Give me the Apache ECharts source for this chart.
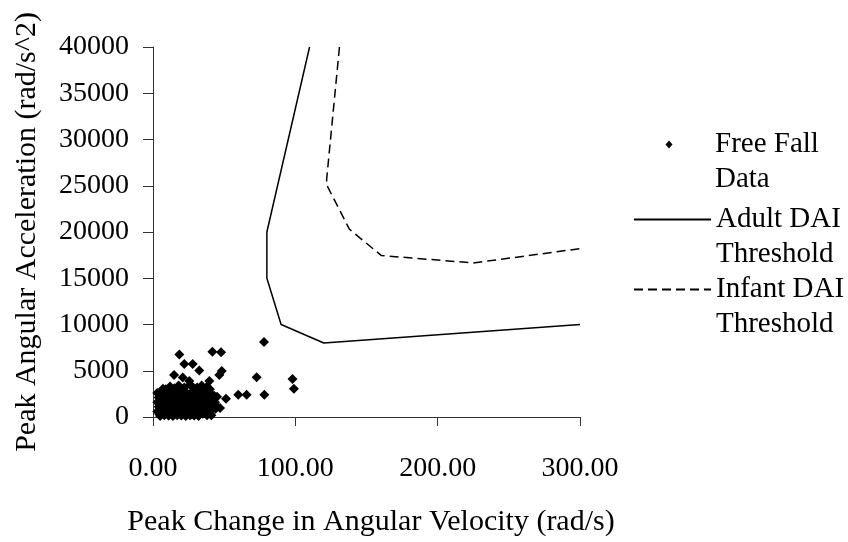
<!DOCTYPE html>
<html>
<head>
<meta charset="utf-8">
<script src="https://cdn.jsdelivr.net/npm/echarts@6/dist/echarts.min.js"></script>
<style>html,body{margin:0;padding:0;background:#fff}#c{width:848px;height:542px}</style>
</head>
<body>
<div id="c"></div>
<script>
const xTicks = [0, 100, 200, 300];
const yTicks = [0, 5000, 10000, 15000, 20000, 25000, 30000, 35000, 40000];

const fallX = [
  78, 18.5, 41.7, 47.8, 22, 27.9, 32.5, 48.3, 46.6, 14.8, 20.9, 25.5, 34.2, 39.6, 28.3,
  72.8, 98, 99, 51.3, 59.9, 65.8, 78.2, 47.1, 35.4,
  31, 38, 12, 9, 15, 36,
  5, 8, 11, 14, 17, 20, 23, 26, 29, 33, 36, 40, 43,
  4, 7, 10, 13, 16, 19, 22, 25, 28, 32, 35, 39, 42, 45,
  3, 6, 9, 12, 15, 18, 21, 24, 27, 30, 34, 37, 41, 44,
  4, 7, 10, 13, 16, 19, 22, 25, 28, 31, 35, 38, 42,
  3, 6, 9, 12, 15, 18, 21, 24, 27, 30, 33, 36, 40,
  5, 8, 11, 14, 17, 20, 23, 26, 29, 32, 38,
  6, 10, 18, 24, 30, 34, 3, 27,
  6.5, 9.5, 12.5, 15.5, 18.5, 21.5, 24.5, 27.5, 30.5, 34, 37.5, 41,
  5.5, 8.5, 11.5, 14.5, 17.5, 20.5, 23.5, 26.5, 29.5, 33, 36.5, 40, 43.5,
  5, 8, 11, 14, 17, 20, 23, 26, 29, 32.5, 36, 39.5, 43,
  5.5, 8.5, 11.5, 14.5, 17.5, 20.5, 23.5, 26.5, 29.5, 33, 37, 40.5, 44,
  4.5, 7.5, 10.5, 13.5, 16.5, 19.5, 22.5, 25.5, 28.5, 31.5, 35, 41,
  7, 18, 22, 26, 33, 40
];
const fallY = [
  8100, 6770, 7060, 6990, 5730, 5730, 5020, 4980, 4550, 4550, 4260, 3900, 3400, 3900, 3190,
  4300, 4120, 3050, 1970, 2400, 2400, 2400, 970, 610,
  3200, 3300, 3300, 3000, 3100, 2900,
  2400, 2700, 2900, 2600, 2800, 3000, 2700, 2500, 2900, 2700, 2400, 2600, 2300,
  2100, 2200, 2000, 2300, 2100, 2200, 2000, 2300, 2100, 2200, 1900, 2000, 1800, 2200,
  1600, 1500, 1700, 1400, 1600, 1500, 1700, 1400, 1600, 1500, 1700, 1400, 1500, 1300,
  1100, 900, 1200, 1000, 1100, 900, 1200, 1000, 1100, 900, 1000, 1200, 1000,
  600, 400, 700, 500, 600, 400, 700, 500, 600, 400, 700, 500, 400,
  100, 200, 150, 100, 200, 150, 100, 200, 150, 100, 200,
  1300, 1800, 2500, 1800, 2600, 2300, 2600, 300,
  2350, 2450, 2250, 2400, 2300, 2450, 2200, 2400, 2300, 2500, 2150, 2050,
  1850, 1750, 1900, 1800, 1850, 1750, 1900, 1800, 1850, 1750, 1650, 1750, 1600,
  1300, 1250, 1350, 1300, 1250, 1350, 1200, 1300, 1250, 1350, 1200, 1300, 1100,
  800, 750, 850, 750, 800, 850, 750, 800, 850, 800, 850, 700, 900,
  300, 350, 250, 300, 350, 250, 300, 350, 250, 300, 350, 200,
  3050, 3400, 3200, 3500, 3100, 3000
];

const adultX = [110, 80, 80, 90, 120, 300];
const adultY = [40000, 20000, 15000, 10000, 8000, 10000];

const infantX = [131, 122, 122, 138, 160.5, 225, 300];
const infantY = [40000, 25700, 25100, 20300, 17450, 16650, 18200];

const legendNames = ['Free Fall Data', 'Adult DAI Threshold', 'Infant DAI Threshold'];
const legendLines = [['Free Fall', 'Data'], ['Adult DAI', 'Threshold'], ['Infant DAI', 'Threshold']];

const zip = (a, b) => a.map((v, i) => [v, b[i]]);
const FONT = 'Liberation Serif';
const TICK_FS = 28, TITLE_FS = 30, LEG_FS = 29, LEG_LH = 35;

const legendTops = [92, 167, 237];
const diamondIcon = 'path://M0,0M77,8M32.5,4L36,0L39.5,4L36,8Z';
const legends = legendNames.map((n, i) => ({
  left: 633, top: legendTops[i], padding: 0, itemWidth: 77, itemHeight: 8,
  symbolKeepAspect: true,
  data: [i === 0 ? {name: n, icon: diamondIcon} : {name: n, itemStyle: {color: 'rgba(0,0,0,0)', opacity: 0}}],
  formatter: () => '\n' + legendLines[i].join('\n'),
  textStyle: {fontFamily: FONT, fontSize: LEG_FS, color: '#000', lineHeight: LEG_LH}
}));

const chart = echarts.init(document.getElementById('c'), null, {renderer: 'canvas'});
const axisLine = {show: true, lineStyle: {color: '#333', width: 1}};
chart.setOption({
  animation: false,
  backgroundColor: '#fff',
  grid: {left: 153, right: 268, top: 47, bottom: 123},
  xAxis: {
    type: 'value', min: xTicks[0], max: xTicks[xTicks.length - 1], interval: 100,
    splitLine: {show: false},
    axisLine: axisLine,
    axisTick: {show: true, inside: false, length: 9, lineStyle: {color: '#333'}},
    axisLabel: {fontFamily: FONT, fontSize: TICK_FS, color: '#000', margin: 38,
      formatter: v => v.toFixed(2)},
    name: 'Peak Change in Angular Velocity (rad/s)',
    nameLocation: 'middle', nameGap: 90,
    nameTextStyle: {fontFamily: FONT, fontSize: TITLE_FS, color: '#000', padding: [0, 0, 0, 9]}
  },
  yAxis: {
    type: 'value', min: yTicks[0], max: yTicks[yTicks.length - 1], interval: 5000,
    splitLine: {show: false},
    axisLine: axisLine,
    axisTick: {show: true, inside: false, length: 10, lineStyle: {color: '#333'}},
    axisLabel: {fontFamily: FONT, fontSize: TICK_FS, color: '#000', margin: 24,
      formatter: v => String(v)},
    name: 'Peak Angular Acceleration (rad/s^2)',
    nameLocation: 'middle', nameGap: 111, nameRotate: 90,
    nameTextStyle: {fontFamily: FONT, fontSize: TITLE_FS, color: '#000'}
  },
  legend: legends,
  series: [
    {name: legendNames[0], type: 'scatter', symbol: 'diamond', symbolSize: 10,
     itemStyle: {color: '#000', opacity: 1}, data: zip(fallX, fallY)},
    {name: legendNames[1], type: 'line', symbol: 'none', showSymbol: false,
     lineStyle: {color: '#000', width: 1.5, type: 'solid'}, itemStyle: {color: '#000'},
     data: zip(adultX, adultY)},
    {name: legendNames[2], type: 'line', symbol: 'none', showSymbol: false,
     lineStyle: {color: '#000', width: 1.5, type: [9, 5]}, itemStyle: {color: '#000'},
     data: zip(infantX, infantY)}
  ]
});
</script>
</body>
</html>
